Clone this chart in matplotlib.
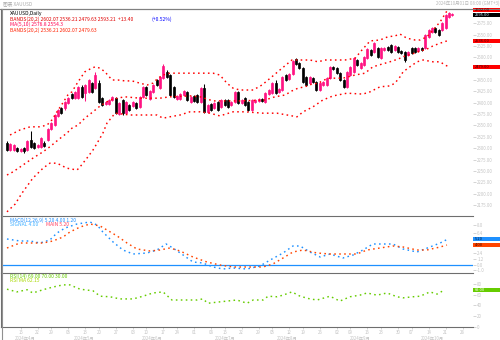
import matplotlib
matplotlib.use('Agg')
import matplotlib.pyplot as plt
from matplotlib.patches import Rectangle
from matplotlib.lines import Line2D

plt.rcParams['font.family'] = ['Noto Sans CJK SC', 'DejaVu Sans']

# daily candles
opens = [2311, 2296, 2296, 2300, 2294, 2300, 2296, 2318, 2311, 2303,
         2303, 2311, 2318, 2342, 2351, 2371, 2388, 2388, 2399, 2419,
         2410, 2410, 2435, 2421, 2424, 2443, 2432, 2443, 2410, 2397,
         2397, 2406, 2410, 2375, 2406, 2377, 2395, 2393, 2399, 2391,
         2413, 2435, 2408, 2424, 2450, 2432, 2454, 2468, 2461, 2435,
         2408, 2408, 2417, 2424, 2402, 2415, 2417, 2402, 2432, 2380,
         2397, 2388, 2402, 2391, 2406, 2406, 2395, 2402, 2424, 2399,
         2410, 2402, 2384, 2402, 2404, 2408, 2402, 2419, 2421, 2443,
         2424, 2428, 2461, 2452, 2463, 2496, 2487, 2476, 2457, 2443,
         2454, 2446, 2428, 2439, 2439, 2454, 2479, 2476, 2465, 2450,
         2435, 2461, 2468, 2494, 2476, 2483, 2498, 2516, 2512, 2520,
         2498, 2516, 2523, 2527, 2516, 2523, 2514, 2512, 2505, 2520,
         2520, 2514, 2520, 2520, 2545, 2556, 2564, 2560, 2560, 2564,
         2589, 2593]
highs = [2316, 2311, 2309, 2303, 2300, 2303, 2318, 2338, 2314, 2309,
         2325, 2316, 2344, 2358, 2375, 2386, 2391, 2404, 2413, 2421,
         2426, 2437, 2439, 2441, 2452, 2446, 2468, 2450, 2413, 2404,
         2408, 2415, 2413, 2402, 2408, 2404, 2397, 2404, 2402, 2415,
         2437, 2437, 2428, 2441, 2452, 2459, 2485, 2472, 2463, 2437,
         2417, 2421, 2428, 2426, 2415, 2417, 2419, 2435, 2441, 2397,
         2399, 2402, 2404, 2408, 2408, 2408, 2404, 2426, 2426, 2408,
         2413, 2404, 2408, 2408, 2410, 2410, 2424, 2430, 2446, 2450,
         2432, 2459, 2463, 2465, 2494, 2498, 2490, 2479, 2459, 2459,
         2457, 2448, 2446, 2448, 2457, 2481, 2481, 2479, 2468, 2452,
         2470, 2481, 2501, 2496, 2490, 2503, 2520, 2518, 2534, 2523,
         2523, 2523, 2525, 2529, 2527, 2525, 2516, 2514, 2514, 2523,
         2523, 2523, 2523, 2551, 2562, 2567, 2567, 2562, 2578, 2595,
         2600, 2597]
lows = [2294, 2294, 2294, 2292, 2292, 2289, 2294, 2300, 2298, 2300,
        2300, 2303, 2316, 2340, 2349, 2369, 2375, 2384, 2397, 2408,
        2408, 2408, 2410, 2404, 2421, 2421, 2430, 2399, 2393, 2395,
        2395, 2404, 2375, 2373, 2373, 2375, 2382, 2391, 2386, 2388,
        2410, 2415, 2406, 2421, 2437, 2430, 2452, 2454, 2415, 2410,
        2406, 2406, 2415, 2404, 2399, 2402, 2399, 2399, 2377, 2377,
        2382, 2386, 2382, 2388, 2393, 2388, 2393, 2399, 2397, 2397,
        2393, 2382, 2382, 2399, 2402, 2402, 2399, 2417, 2419, 2419,
        2421, 2426, 2448, 2450, 2461, 2483, 2474, 2443, 2437, 2441,
        2443, 2426, 2426, 2437, 2437, 2452, 2472, 2463, 2448, 2432,
        2432, 2459, 2465, 2481, 2474, 2481, 2496, 2503, 2509, 2498,
        2496, 2514, 2514, 2509, 2514, 2509, 2507, 2490, 2503, 2507,
        2509, 2512, 2514, 2518, 2542, 2553, 2553, 2547, 2558, 2562,
        2586, 2591]
closes = [2296, 2309, 2307, 2294, 2298, 2294, 2316, 2303, 2300, 2307,
          2322, 2305, 2342, 2355, 2373, 2384, 2377, 2402, 2410, 2410,
          2424, 2435, 2413, 2439, 2450, 2424, 2461, 2402, 2395, 2402,
          2406, 2413, 2377, 2399, 2377, 2402, 2384, 2402, 2388, 2413,
          2435, 2417, 2426, 2439, 2439, 2457, 2481, 2457, 2417, 2413,
          2415, 2419, 2426, 2406, 2413, 2404, 2402, 2432, 2380, 2395,
          2384, 2399, 2384, 2406, 2395, 2391, 2402, 2424, 2399, 2406,
          2395, 2384, 2406, 2406, 2408, 2404, 2421, 2428, 2443, 2421,
          2430, 2457, 2450, 2463, 2492, 2485, 2476, 2446, 2439, 2457,
          2446, 2428, 2443, 2446, 2454, 2479, 2474, 2465, 2450, 2435,
          2468, 2479, 2498, 2483, 2487, 2501, 2518, 2505, 2531, 2501,
          2520, 2520, 2516, 2512, 2525, 2512, 2509, 2494, 2512, 2509,
          2512, 2520, 2516, 2549, 2560, 2564, 2556, 2549, 2575, 2593,
          2597, 2595]

# bollinger bands (20, 2)
bb_up_pos = [0.9, 3.8, 6.8, 9.7, 11.8, 13.2, 14.7, 16.2, 17.9, 19.1, 20.0, 20.9,
             22.9, 24.4, 25.9, 27.4, 28.8, 30.9, 32.6, 34.7, 36.8, 39.1, 41.2,
             42.9, 44.4, 45.9, 47.9, 52.4, 55.9, 60.6, 62.6, 64.7, 66.5, 68.5,
             72.4, 75.0, 77.9, 80.9, 83.8, 86.2, 89.1, 91.5, 93.5, 96.5, 99.4,
             102.4, 104.4, 106.8, 109.7, 112.0, 114.1, 115.6, 117.6, 120.0,
             121.5, 123.5, 125.3, 127.4, 129.4]
bb_up = [2329, 2340, 2347, 2347, 2351, 2362, 2380, 2397, 2417, 2424, 2435, 2446,
         2468, 2474, 2479, 2476, 2468, 2450, 2450, 2448, 2448, 2443, 2439,
         2443, 2454, 2461, 2465, 2465, 2465, 2465, 2461, 2443, 2432, 2428,
         2428, 2439, 2457, 2476, 2494, 2494, 2494, 2490, 2494, 2494, 2494,
         2498, 2516, 2536, 2538, 2545, 2547, 2551, 2542, 2538,
         2538, 2545, 2560, 2578, 2602]
bb_mid_pos = [0, 1.8, 4.7, 7.6, 10.6, 12.6, 14.7, 16.2, 17.6, 19.1, 20.9, 22.9,
              25.3, 27.4, 30.3, 32.4, 34.7, 39.1, 45.0, 47.9, 53.8, 56.8, 60.6,
              68.5, 75.9, 78.8, 81.8, 83.8, 85.6, 87.6, 89.7, 91.5, 94.4, 98.8,
              102.4, 105.3, 107.6, 110.3, 112.6, 115.0, 117.1, 119.1, 120.9,
              123.5, 125.3, 127.4, 129.4]
bb_mid = [2241, 2248, 2263, 2278, 2292, 2303, 2316, 2325, 2333, 2344, 2351, 2366,
          2380, 2393, 2406, 2410, 2413, 2410, 2410, 2413, 2415, 2413, 2404,
          2404, 2406, 2413, 2417, 2426, 2432, 2435, 2441, 2443, 2454, 2454,
          2461, 2465, 2479, 2485, 2490, 2496, 2503, 2507, 2512,
          2518, 2525, 2531, 2536]
bb_low_pos = [0, 2.4, 4.4, 7.6, 10.6, 12.6, 14.7, 17.6, 20.6, 21.5, 23.5, 25.3,
              26.5, 28.2, 29.4, 31.8, 36.2, 40.6, 44.1, 45.9, 47.9, 50.9, 53.8,
              56.8, 59.7, 62.6, 66.5, 70.0, 75.3, 79.4, 82.4, 85.3, 87.1, 90.0,
              92.9, 95.9, 100.0, 104.7, 106.8, 109.7, 112.6, 114.1, 115.6, 116.5,
              118.5, 120.6, 122.4, 125.3, 127.4, 128.8, 130.0]
bb_low = [2160, 2177, 2201, 2234, 2256, 2267, 2267, 2256, 2252, 2259, 2278, 2296,
          2311, 2333, 2355, 2377, 2373, 2373, 2373, 2366, 2369, 2373, 2380,
          2380, 2377, 2371, 2380, 2380, 2377, 2377, 2373, 2369, 2380, 2391,
          2406, 2415, 2421, 2419, 2424, 2435, 2437, 2443, 2457, 2468,
          2479, 2490, 2494, 2490, 2490, 2483, 2479]

# oscillator: main / signal
osc_pos = [0, 3.8, 6.8, 9.7, 12.6, 14.7, 17.1, 20.6, 24.4, 26.5, 28.2, 31.2,
           34.1, 37.1, 41.2, 44.1, 46.8, 48.8, 51.8, 54.7, 57.6, 60.6, 63.5,
           66.5, 70.6, 74.4, 77.4, 81.2, 84.1, 86.2, 89.1, 92.1, 95.0, 98.8,
           101.8, 104.7, 107.6, 110.6, 113.5, 116.5, 120.6, 124.4, 127.4, 129.7]
osc_main = [52, 48, 48, 44, 50, 64, 74, 82, 86, 80, 66, 46,
            30, 22, 24, 30, 42, 34, 20, 6, 4, -4, -8,
            -6, -8, -2, 10, 24, 38, 38, 26, 16, 22, 14,
            20, 30, 42, 42, 42, 32, 26, 36, 44, 52]
sig_pos = [0, 3.8, 7.6, 10.6, 13.5, 16.5, 18.5, 21.5, 24.4, 27.4, 29.4, 32.4,
           35.3, 38.2, 42.1, 45.0, 47.9, 50.9, 54.7, 58.8, 62.6, 66.5, 70.6,
           75.3, 78.2, 81.2, 84.1, 87.1, 91.2, 95.0, 98.8, 102.9, 105.9, 109.7,
           113.5, 116.5, 120.6, 123.5, 127.4, 129.4]
osc_signal = [34, 44, 44, 44, 48, 56, 66, 76, 82, 78, 70, 58,
              44, 32, 28, 30, 34, 28, 16, 6, 0, -4, -4,
              -4, 2, 14, 26, 30, 24, 22, 22, 22, 30, 34,
              38, 36, 30, 30, 36, 40]

# RSI(14)
rsi_pos = [0, 2.9, 5.9, 7.6, 10.6, 13.5, 16.5, 18.5, 21.5, 25.3, 27.4, 30.3,
           33.2, 37.1, 40.0, 42.9, 45.9, 48.5, 51.8, 55.9, 57.6, 59.1, 61.8,
           64.7, 67.6, 70.6, 72.4, 75.3, 76.8, 79.4, 81.2, 83.8, 86.2, 89.1,
           91.2, 95.0, 97.9, 100.9, 103.8, 105.9, 108.8, 111.8, 114.7, 116.5,
           119.4, 121.5, 124.4, 126.5, 128.8]
rsi = [70, 65, 69, 63, 69, 74, 78, 78, 70, 67, 57, 56,
       52, 52, 57, 63, 65, 50, 50, 50, 52, 44, 46,
       48, 50, 44, 50, 50, 57, 56, 59, 65, 57, 52,
       50, 57, 48, 56, 59, 63, 59, 63, 56, 54,
       56, 57, 65, 61, 69]

price_ticks = [2175, 2200, 2225, 2250, 2275, 2300, 2325, 2350, 2375, 2400,
               2425, 2450, 2500, 2525, 2550, 2575]
osc_ticks = [80, 64, 24, 12, 0, -10]
rsi_ticks = [80, 60, 40, 20, 0]

day_pos = [4, 9, 13, 18, 23, 27, 32, 37, 41, 46, 50, 55, 60, 64, 69, 74, 78,
           83, 87, 92, 97, 101, 106, 110, 115, 119, 124, 129, 134]
day_lbl = ['15', '22', '29', '06', '13', '20', '27', '03', '10', '17', '24',
           '01', '08', '15', '22', '29', '05', '12', '19', '26', '02', '09',
           '16', '23', '30', '07', '14', '21', '28']
month_pos = [5.3, 22.6, 42.6, 64.1, 82.4, 103.8, 125]
month_lbl = ['2024年4月', '2024年5月', '2024年6月', '2024年7月', '2024年8月',
             '2024年9月', '2024年10月']

UP = '#ff1483'
DOWN = '#000000'
BAND = '#ff0000'
GRID = '#6e6e6e'
LBL = '#c4c4c4'
W, H = 500, 340


def fx(x):
    return x / W


def fy(y):
    return 1 - y / H


fig = plt.figure(figsize=(5, 3.4), dpi=100)
ax1 = fig.add_axes([fx(1), fy(215), 472 / W, 206 / H])
ax2 = fig.add_axes([fx(1), fy(272), 472 / W, 56 / H])
ax3 = fig.add_axes([fx(1), fy(327), 472 / W, 54 / H])

for ax in (ax1, ax2, ax3):
    ax.set_xlim(-1.76, 137.06)
    for s in ax.spines.values():
        s.set_color(GRID)
        s.set_linewidth(0.8)
    ax.spines['right'].set_visible(False)
    ax.yaxis.tick_right()
    ax.tick_params(axis='y', length=2, width=0.5, colors=LBL, labelsize=3.2, pad=1)
    ax.set_facecolor('white')
ax1.spines['bottom'].set_visible(False)
ax2.spines['bottom'].set_visible(False)
ax1.tick_params(axis='x', bottom=False, labelbottom=False)
ax2.tick_params(axis='x', bottom=False, labelbottom=False)

# candles
n = len(closes)
for i in range(n):
    c = UP if closes[i] >= opens[i] else DOWN
    ax1.vlines(i, lows[i], highs[i], color=c, lw=0.75)
    lo = min(opens[i], closes[i])
    ax1.bar(i, abs(closes[i] - opens[i]), bottom=lo, width=0.62, color=c,
            edgecolor=c, linewidth=0.5)

dots = (0, (1.1, 2.3))
for px, py in ((bb_up_pos, bb_up), (bb_mid_pos, bb_mid), (bb_low_pos, bb_low)):
    ax1.plot(px, py, color=BAND, lw=1.05, linestyle=dots)

ax1.set_ylim(2153, 2606.2)
ax1.set_yticks(price_ticks)
ax1.set_yticklabels([f'{v:.2f}' for v in price_ticks])

# oscillator panel
ax2.axhline(0, color='#1e90ff', lw=0.9)
ax2.plot(osc_pos, osc_main, color='#1e90ff', lw=1.05, linestyle=dots)
ax2.plot(sig_pos, osc_signal, color='#ff4500', lw=1.05, linestyle=dots)
ax2.set_ylim(-14, 98)
ax2.set_yticks(osc_ticks)
ax2.set_yticklabels([f'{v / 10:.1f}' for v in osc_ticks])

# rsi panel
ax3.plot(rsi_pos, rsi, color='#66cc00', lw=1.05, linestyle=dots)
ax3.set_ylim(0, 100)
ax3.set_yticks(rsi_ticks)
ax3.set_yticklabels([str(v) for v in rsi_ticks])
ax3.set_xticks(day_pos)
ax3.set_xticklabels(day_lbl)
ax3.tick_params(axis='x', length=1.5, width=0.5, colors=LBL, labelsize=3.1, pad=1)
for p, t in zip(month_pos, month_lbl):
    ax3.text(p, -0.16, t, transform=ax3.get_xaxis_transform(), ha='center',
             va='top', fontsize=3.1, color=LBL)


# value boxes on the right scale
def value_box(ax, value, text, face, tcolor, dy=0.0):
    y = fig.transFigure.inverted().transform(ax.transData.transform((0, value)))[1]
    y -= dy / H
    fig.patches.append(Rectangle((fx(473), y - 2.1 / H), 27 / W, 4.2 / H,
                                 transform=fig.transFigure, facecolor=face,
                                 edgecolor='none'))
    fig.text(fx(475), y, text, fontsize=2.9, color=tcolor, va='center', ha='left')


value_box(ax1, bb_up[-1], f'{bb_up[-1]:.2f}', '#ff0000', '#400000', dy=-0.9)
value_box(ax1, closes[-1], f'{closes[-1]:.2f}', '#000000', '#d0e8ff', dy=0.9)
value_box(ax1, bb_mid[-1], f'{bb_mid[-1]:.2f}', '#ff0000', '#400000')
value_box(ax1, bb_low[-1], f'{bb_low[-1]:.2f}', '#ff0000', '#400000')
value_box(ax2, osc_main[-1], f'{osc_main[-1] / 10:.2f}', '#1e90ff', '#002040')
value_box(ax2, osc_signal[-1], f'{osc_signal[-1] / 10:.2f}', '#ff4500', '#401000')
value_box(ax3, rsi[-1], f'{rsi[-1]:.2f}', '#66cc00', '#ffffff')

# frame lines
fig.add_artist(Line2D([0, 1], [fy(9), fy(9)], color='#808080', lw=0.8))
fig.add_artist(Line2D([fx(1.5), fx(1.5)], [0, fy(9)], color='#909090', lw=0.8))

# header and indicator captions
fig.text(fx(3), fy(3.5), '图表 XAUUSD', fontsize=3.4, color='#a8a8a8', va='center')
fig.text(fx(499), fy(3.5), '2024年10月01日 08:00 (GMT+3)', fontsize=3.2,
         color='#b8b8b8', va='center', ha='right')
fs = 3.6
fig.text(fx(10), fy(13), 'XAUUSD,Daily', fontsize=fs, color='#000000', va='center')
fig.text(fx(10), fy(19), 'BANDS(20,2) 2602.07 2536.21 2479.63 2593.21  +13.40',
         fontsize=fs, color='#e00000', va='center')
fig.text(fx(151), fy(19), '(+0.52%)', fontsize=fs, color='#0000ff', va='center')
fig.text(fx(10), fy(24), 'MA(5,10) 2576.8 2554.3', fontsize=fs, color='#ff0050',
         va='center')
fig.text(fx(10), fy(30), 'BANDS(20,2) 2536.21 2602.07 2479.63', fontsize=fs,
         color='#ff2000', va='center')
fig.text(fx(10), fy(220), 'MACD(12,26,9) 5.20 4.00 1.20', fontsize=fs,
         color='#1e90ff', va='center')
fig.text(fx(10), fy(225), 'SIGNAL 4.00', fontsize=fs, color='#40b0ff',
         va='center')
fig.text(fx(46), fy(225), 'MAIN 5.20', fontsize=fs, color='#ff4060', va='center')
fig.text(fx(10), fy(276), 'RSI(14) 69.00 70.00 30.00', fontsize=fs,
         color='#66cc00', va='center')
fig.text(fx(10), fy(281), 'RSI MA 62.15', fontsize=fs, color='#a8d800',
         va='center')

fig.savefig('out.png', dpi=100, facecolor='white')
